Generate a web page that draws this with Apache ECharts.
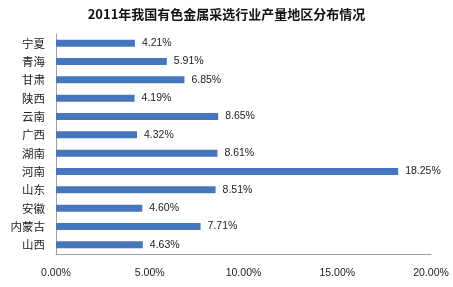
<!DOCTYPE html>
<html><head><meta charset="utf-8">
<script src="https://cdn.jsdelivr.net/npm/echarts@6/dist/echarts.min.js"></script>
<style>html,body{margin:0;padding:0;background:#fff}#c{width:453px;height:287px}</style>
</head><body><div id="c"></div>
<script>
var categories = ['宁夏','青海','甘肃','陕西','云南','广西','湖南','河南','山东','安徽','内蒙古','山西'];
var values = [4.21,5.91,6.85,4.19,8.65,4.32,8.61,18.25,8.51,4.60,7.71,4.63];
var titleText = '2011年我国有色金属采选行业产量地区分布情况';
var chart = echarts.init(document.getElementById('c'));
chart.setOption({
  animation:false,
  backgroundColor:'#fff',
  title:{text:titleText,left:'center',top:3,textStyle:{fontSize:13,fontWeight:'bold',color:'#111',fontFamily:'"Noto Sans CJK SC", serif'}},
  grid:{left:56,right:22,top:34,bottom:33},
  xAxis:{type:'value',min:0,max:20,interval:5,
    axisLine:{show:true,lineStyle:{color:'#a0a0a0'}},axisTick:{show:false},
    splitLine:{show:false},
    axisLabel:{margin:14,fontSize:10.5,color:'#222',fontFamily:'"Liberation Sans", sans-serif',formatter:function(v){return v.toFixed(2)+'%';}}},
  yAxis:{type:'category',data:categories,inverse:true,
    axisLine:{show:true,lineStyle:{color:'#a0a0a0'}},axisTick:{show:false},
    axisLabel:{margin:11,fontSize:11.5,color:'#222',fontFamily:'"Noto Sans CJK SC", sans-serif'}},
  series:[{type:'bar',data:values,barWidth:7,
    itemStyle:{color:'#4677BE'},
    label:{show:true,position:'right',distance:7,fontSize:10.5,color:'#222',fontFamily:'"Liberation Sans", sans-serif',formatter:function(p){return p.value.toFixed(2)+'%';}}}]
});
</script></body></html>
